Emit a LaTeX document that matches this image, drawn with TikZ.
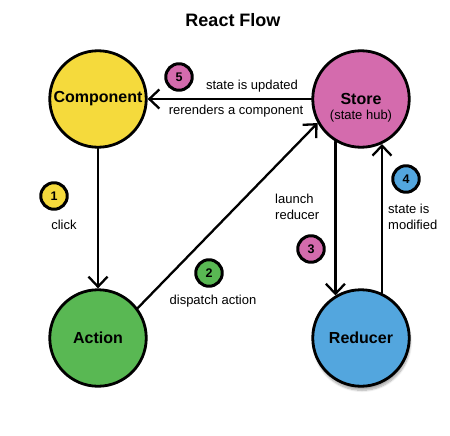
\documentclass[tikz,border=0pt]{standalone}
\usepackage{fontspec}
\setmainfont{Liberation Sans}
\usetikzlibrary{arrows.meta,shadows.blur}
\definecolor{compyellow}{HTML}{F5DA3C}
\definecolor{actgreen}{HTML}{59B853}
\definecolor{storepink}{HTML}{D46BAD}
\definecolor{redblue}{HTML}{53A6DE}
\tikzset{
  state/.style={circle,draw,line width=2.8pt,minimum size=96.5pt,inner sep=0pt,
    font=\fontsize{16}{19}\selectfont\bfseries},
  badge/.style={circle,draw,line width=3pt,minimum size=26.5pt,inner sep=0pt,
    font=\fontsize{12.5}{14}\selectfont\bfseries},
  arr/.style={line width=2.3pt,-{Straight Barb[length=10pt,width=19pt]}},
  note/.style={inner sep=0pt,font=\fontsize{13}{16}\selectfont}
}
\begin{document}
\begin{tikzpicture}[x=1pt,y=-1pt,line cap=round,line join=round]
  \useasboundingbox (0,0) rectangle (450,436);
  \node[font=\fontsize{18}{22}\selectfont\bfseries] (title) at (233,20) {React Flow};

  % main states
  \node[state,fill=compyellow] (Component) at (98,99) {Component};
  \node[state,fill=storepink] (Store) at (361,99) {Store};
  \node[note] (hub) at (361,116) {(state hub)};
  \node[state,fill=actgreen] (Action) at (98,338) {Action};
  \node[state,fill=redblue,blur shadow={shadow xshift=1pt,shadow yshift=-4pt,
    shadow blur steps=8,shadow opacity=35}] (Reducer) at (361,338) {Reducer};

  % connectors
  \draw[arr] (Store) -- (Component);
  \draw[arr] (Component) -- (Action);
  \draw[arr] (Action.37) -- (Store.209);
  \draw[arr] (Store.239) -- (Reducer.121);
  \draw[arr] (Reducer.65) -- (Store.295);

  % steps
  \node[badge,fill=compyellow] (b1) at (54,196) {1};
  \node[badge,fill=actgreen] (b2) at (209,273) {2};
  \node[badge,fill=storepink] (b3) at (311,249) {3};
  \node[badge,fill=redblue] (b4) at (406,179) {4};
  \node[badge,fill=storepink] (b5) at (179,77) {5};

  \node[note] (click) at (64,225) {click};
  \node[note] (dispatch) at (213,301) {dispatch action};
  \node[note,anchor=west,align=left] (launch) at (275,207) {launch\\reducer};
  \node[note,anchor=west,align=left] (modified) at (388,217) {state is\\modified};
  \node[note] (updated) at (252,86) {state is updated};
  \node[note] (rerender) at (236,111) {rerenders a component};
\end{tikzpicture}
\end{document}
